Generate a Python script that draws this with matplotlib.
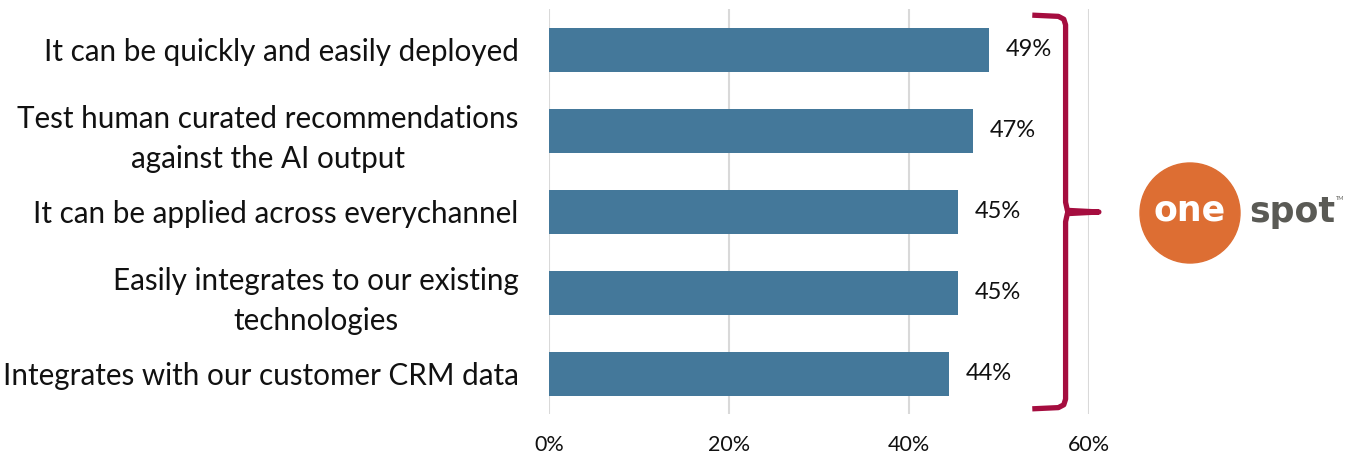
import numpy as np
import matplotlib.pyplot as plt
from matplotlib.patches import Ellipse

plt.rcParams['font.family'] = ['Lato', 'DejaVu Sans']

labels = [
    "It can be quickly and easily deployed",
    "Test human curated recommendations\nagainst the AI output",
    "It can be applied across everychannel",
    "Easily integrates to our existing\ntechnologies",
    "Integrates with our customer CRM data",
]
values = [48.9, 47.1, 45.4, 45.4, 44.4]
xticks = [0, 20, 40, 60]

bar_color = "#44789a"
brace_color = "#a50d3f"

fig = plt.figure(figsize=(13.58, 4.58), dpi=100)
ax = fig.add_axes([0.4043, 0.095, 0.3976, 0.8843])

y = np.arange(len(labels))
ax.barh(y, values, height=0.54, color=bar_color, zorder=2)

for yi, v in zip(y, values):
    ax.text(v + 1.9, yi, f"{round(v)}%", va="center", ha="left", fontsize=17, color="#111111")

ax.set_ylim(len(labels) - 0.5, -0.5)
ax.set_xlim(0, 60)
ax.set_yticks(y)
ax.set_yticklabels(labels, fontsize=21.3, color="#111111", linespacing=1.5)
for t in ax.get_yticklabels():
    t.set_multialignment("center")
ax.set_xticks(xticks)
ax.set_xticklabels([f"{t}%" for t in xticks], fontsize=15.5, color="#111111")
ax.tick_params(axis="y", length=0, pad=22)
ax.tick_params(axis="x", length=0, pad=15)
ax.grid(axis="x", color="#d9d9d9", linewidth=1.5, zorder=0)
for s in ax.spines.values():
    s.set_visible(False)

# curly brace to the right of the bars
bx0, bx1, bx2 = 53.7, 57.4, 61.1
top, bot, mid = -0.43, 4.43, 2.0
r = 0.12
brace_x = [bx0, bx1 - 0.8, bx1 - 0.2, bx1, bx1, bx1 + 0.2, bx2, bx1 + 0.2, bx1, bx1, bx1 - 0.2, bx1 - 0.8, bx0]
brace_y = [top, top + 0.015, top + 0.05, top + r, mid - r, mid - 0.02, mid, mid + 0.02, mid + r, bot - r, bot - 0.05, bot - 0.015, bot]
ax.plot(brace_x, brace_y, color=brace_color, linewidth=3.8, clip_on=False,
        solid_joinstyle="round", solid_capstyle="butt", zorder=3)

# onespot logo
cx, cy = 1190 / 1358, 1 - 213 / 458
fig.patches.append(Ellipse((cx, cy), 100 / 1358, 100 / 458, transform=fig.transFigure,
                           color="#dd6e33", zorder=1))
fig.text(cx, cy + 0.005, "one", ha="center", va="center", color="white",
         fontsize=25, fontweight="bold", family="DejaVu Sans")
fig.text(1249 / 1358, cy + 0.002, "spot", ha="left", va="center", color="#5a5a55",
         fontsize=25, fontweight="bold", family="DejaVu Sans")
fig.text(1336 / 1358, 1 - 198 / 458, "TM", ha="left", va="center", color="#5a5a55",
         fontsize=4)

fig.savefig("out.png", dpi=100)
